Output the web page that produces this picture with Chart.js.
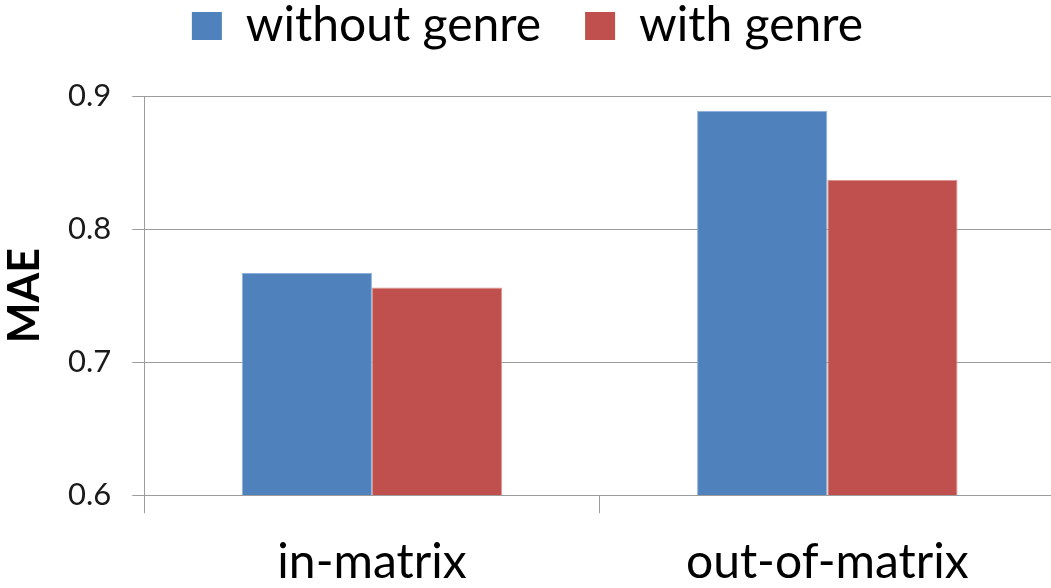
<!DOCTYPE html>
<html>
<head>
<meta charset="utf-8">
<title>MAE with and without genre</title>
<script src="https://cdn.jsdelivr.net/npm/chart.js@4/dist/chart.umd.min.js"></script>
<style>
  html, body { margin: 0; padding: 0; background: #fff; overflow: hidden; }
  #wrap { width: 1055px; height: 588px; }
</style>
</head>
<body>
<div id="wrap"><canvas id="c" width="1055" height="588"></canvas></div>
<script>
// Mean absolute error for the two settings, with and without genre information
const categories = ['in-matrix', 'out-of-matrix'];
const seriesNames = ['without genre', 'with genre'];
const withoutGenre = [0.767, 0.889];
const withGenre = [0.756, 0.837];
const yTicks = [0.6, 0.7, 0.8, 0.9];

const FONT = 'Lato, "Open Sans", sans-serif';
const GRID = '#9c9c9c';

// Adjusts the space left under the legend row
const legendSpacer = {
  id: 'legendSpacer',
  beforeInit(chart) {
    const origFit = chart.legend.fit;
    chart.legend.fit = function () {
      origFit.call(this);
      this.height += 36;
    };
  }
};

function draw() {
  new Chart(document.getElementById('c'), {
    type: 'bar',
    data: {
      labels: categories,
      datasets: [
        {
          label: seriesNames[0],
          data: withoutGenre,
          backgroundColor: '#4F81BD',
          borderColor: '#8DB0DA',
          borderWidth: 1
        },
        {
          label: seriesNames[1],
          data: withGenre,
          backgroundColor: '#C0504D',
          borderColor: '#DE9592',
          borderWidth: 1
        }
      ]
    },
    options: {
      responsive: false,
      animation: false,
      events: [],
      layout: { padding: { top: -42, left: 0, right: 0, bottom: -24 } },
      datasets: { bar: { categoryPercentage: 0.572, barPercentage: 1.0 } },
      plugins: {
        tooltip: { enabled: false },
        legend: {
          position: 'top',
          labels: {
            boxWidth: 30,
            boxHeight: 28,
            padding: 44,
            color: '#000',
            font: { family: FONT, size: 48 },
            generateLabels(chart) {
              const items = Chart.defaults.plugins.legend.labels.generateLabels(chart);
              items.forEach(it => { it.lineWidth = 0; });
              return items;
            }
          }
        }
      },
      scales: {
        x: {
          grid: {
            offset: true,
            drawOnChartArea: false,
            drawTicks: true,
            tickLength: 18,
            color: GRID,
            lineWidth: 1
          },
          border: { display: true, color: GRID, width: 1 },
          ticks: {
            color: '#000',
            padding: 36,
            font: { family: FONT, size: 48, lineHeight: 0.56 }
          }
        },
        y: {
          min: 0.6,
          max: 0.9,
          afterBuildTicks(scale) {
            scale.ticks = yTicks.map(v => ({ value: v }));
          },
          grid: {
            color: GRID,
            lineWidth: 1,
            drawTicks: true,
            tickLength: 12
          },
          border: { display: true, color: GRID, width: 1 },
          ticks: {
            color: '#1a1a1a',
            padding: 21,
            font: { family: FONT, size: 31 },
            callback: v => v.toFixed(1)
          },
          title: {
            display: true,
            text: 'MAE',
            color: '#000',
            font: { family: FONT, size: 43, weight: 'bold', lineHeight: 1.0 },
            padding: { top: 4, bottom: 0 }
          }
        }
      }
    },
    plugins: [legendSpacer]
  });
}

Promise.all([
  document.fonts.load('48px Lato'),
  document.fonts.load('bold 43px Lato')
]).then(draw, draw);
</script>
</body>
</html>
